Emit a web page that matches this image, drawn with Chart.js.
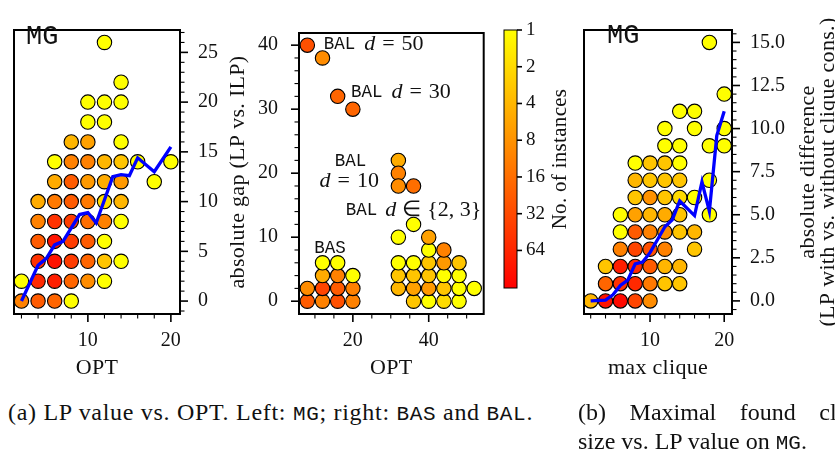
<!DOCTYPE html>
<html>
<head>
<meta charset="utf-8">
<title>LP value vs. OPT</title>
<script src="https://cdn.jsdelivr.net/npm/chart.js@4.4.1/dist/chart.umd.min.js"></script>
<style>
  body { margin: 0; background: #fff; }
  #fig { position: relative; width: 835px; height: 457px; overflow: hidden; background: #fff; }
  #fig canvas { position: absolute; top: 0; }
  .cap { position: absolute; font-family: "Liberation Serif", serif; font-size: 24px; line-height: 29px; color: #111; white-space: nowrap; }
  .tt { font-family: "Liberation Mono", monospace; font-size: 21px; }
</style>
</head>
<body>
<div id="fig">
  <canvas id="mgChart" width="262" height="390" style="left:0"></canvas>
  <canvas id="balChart" width="242" height="390" style="left:250px"></canvas>
  <canvas id="barChart" width="90" height="390" style="left:492px"></canvas>
  <canvas id="cliqueChart" width="265" height="390" style="left:570px"></canvas>
  <div class="cap" style="left:8px;top:398px;letter-spacing:0.7px">(a) LP value vs. OPT. Left: <span class="tt">MG</span>; right: <span class="tt">BAS</span> and <span class="tt">BAL</span>.</div>
  <div class="cap" style="left:578px;top:398px;width:300px;text-align:justify;text-align-last:justify">(b) Maximal found clique</div>
  <div class="cap" style="left:578px;top:427px">size vs. LP value on <span class="tt">MG</span>.</div>
</div>

<script>
// MG: OPT vs. absolute gap, with number of instances per point
const mgOpt   = [2,4,6,8, 2,4,6,8,10,12, 4,6,8,10,12,14, 4,6,8,10,12, 4,6,8,10,12,14, 4,6,8,10,12,14, 6,8,10,12,14,18, 6,8,10,12,14,16,20, 8,10,14, 10,12, 10,12,14, 14, 12];
const mgGap   = [0,0,0,0, 2,2,2,2,2,2, 4,4,4,4,4,4, 6,6,6,6,6, 8,8,8,8,8,8, 10,10,10,10,10,10, 12,12,12,12,12,12, 14,14,14,14,14,14,14, 16,16,16, 18,18, 20,20,20, 22, 26];
const mgCount = [11,23,19,1, 1,60,74,19,9,1, 50,90,41,19,3,1, 23,90,41,23,1, 11,50,41,16,11,1, 5,13,23,13,2,4, 5,23,7,5,7,1, 1,11,11,4,3,1,1, 4,6,1, 1,1, 1,1,1, 1, 1];
const mgMeanOpt = [2, 4, 5, 6, 7, 9, 10, 11, 13, 14, 15, 16, 18, 20];
const mgMeanGap = [0, 3.6, 4.3, 5.65, 6.0, 8.7, 8.9, 7.85, 12.5, 12.7, 12.6, 14.4, 13.0, 15.5];

// BAS and BAL: OPT vs. absolute gap
const balOpt   = [8,12,16,20, 8,12,16,20, 12,16,20, 12,16,
                  8,12, 16,20, 32,32,32,36,
                  36,40,44,48, 32,36,40,44,48,52, 32,36,40,44,48, 32,36,40,44,48, 40,44, 32,40, 36];
const balGap   = [0,0,0,0, 2,2,2,2, 4,4,4, 6,6,
                  40,38, 32,30, 22,20,18,18,
                  0,0,0,0, 2,2,2,2,2,2, 4,4,4,4,4, 6,6,6,6,6, 8,8, 10,10, 12];
const balCount = [23,11,28,11, 9,35,23,11, 5,11,1, 1,1,
                  28,9, 19,19, 5,11,9,16,
                  3,1,2,1, 4,6,7,3,1,1, 3,3,3,1,1, 1,1,3,7,3, 1,11, 1,6, 1];

// MG: max clique vs. absolute difference of LP values
const cqSize  = [2,4,6,8,10, 4,6,8,10,12,14, 4,6,8,10,12,14, 6,8,10,12,16, 6,8,10,12,14,16, 6,8,10,12,14,18, 8,10,12,14,16, 8,10,12,14,18, 8,10,12,14, 12,14,18,20, 12,16,20, 14,16, 20, 18];
const cqDiff  = [0,0,0,0,0, 1,1,1,1,1,1, 2,2,2,2,2,2, 3,3,3,3,3, 4,4,4,4,4,4, 5,5,5,5,5,5, 6,6,6,6,6, 7,7,7,7,7, 8,8,8,8, 9,9,9,9, 10,10,10, 11,11, 12, 15];
const cqCount = [4,90,108,35,9, 19,50,60,13,3,3, 3,74,60,23,4,4, 11,35,28,11,3, 1,23,11,9,3,4, 1,6,4,5,3,1, 3,8,3,2,1, 4,3,3,3,1, 1,3,3,1, 1,1,1,1, 1,1,1, 1,1, 1, 1];
const cqMeanSize = [2, 4, 5, 6, 7, 8, 9, 10, 11, 12, 13, 14, 16, 17, 18, 19, 20];
const cqMeanDiff = [0, 0.05, 0.35, 0.9, 1.2, 2.15, 2.25, 2.8, 3.55, 4.3, 4.7, 5.8, 4.95, 6.9, 5.2, 9.6, 11.0];

// colour bar ticks (No. of instances, log scale)
const barTicks = [1, 2, 4, 8, 16, 32, 64];
const VMAX = 130;

const SERIF = '"Liberation Serif", serif';
const MONO = '"Liberation Mono", monospace';
const INK = '#111';
const TITLE = '22px ' + SERIF;
const MATH = '22px ' + SERIF;
const ITAL = 'italic 22px ' + SERIF;
const TT = '17.5px ' + MONO;

function range(a, b, step) {
  const out = [];
  for (let i = 0; a + i * step <= b + 1e-9; i++) out.push(+(a + i * step).toFixed(3));
  return out;
}

// autumn_r colour map on a log scale, 1 .. VMAX
function countColor(n) {
  const g = Math.round(255 * (1 - Math.log(n) / Math.log(VMAX)));
  return 'rgb(255,' + g + ',0)';
}

const decor = {
  id: 'decor',
  afterDraw(chart, args, o) {
    const ctx = chart.ctx, a = chart.chartArea;
    ctx.save();
    ctx.strokeStyle = '#000';
    Object.keys(o.marks || {}).forEach(id => {
      const m = o.marks[id], s = chart.scales[id];
      s.ticks.forEach(t => {
        const q = t.value / m.major, big = Math.abs(q - Math.round(q)) < 1e-9;
        const len = big ? m.len : m.minor, p = s.getPixelForValue(t.value);
        ctx.lineWidth = big ? 1.6 : 1.1;
        ctx.beginPath();
        if (m.side === 'bottom') { ctx.moveTo(p, a.bottom); ctx.lineTo(p, a.bottom + len); }
        else if (m.side === 'left') { ctx.moveTo(a.left, p); ctx.lineTo(a.left - len, p); }
        else { ctx.moveTo(a.right, p); ctx.lineTo(a.right + len, p); }
        ctx.stroke();
      });
    });
    ctx.lineWidth = o.frame;
    ctx.strokeRect(a.left, a.top, a.right - a.left, a.bottom - a.top);

    ctx.fillStyle = INK;
    ctx.textBaseline = 'middle';
    ctx.textAlign = 'left';
    (o.texts || []).forEach(tx => {
      let x = tx.x === 'mid' ? (a.left + a.right) / 2 : tx.x;
      let y = tx.y === 'mid' ? (a.top + a.bottom) / 2 : tx.y;
      if (tx.data) { x = chart.scales.x.getPixelForValue(tx.x); y = chart.scales.y.getPixelForValue(tx.y); }
      ctx.save();
      ctx.letterSpacing = tx.ls || '0px';
      ctx.translate(x, y);
      if (tx.rot) ctx.rotate(-Math.PI / 2);
      const w = tx.parts.map(p => { if (p.g) return p.g; ctx.font = p.f; return ctx.measureText(p.t).width; });
      let cx = tx.align === 'center' ? -w.reduce((s, v) => s + v, 0) / 2 : 0;
      tx.parts.forEach((p, i) => { if (!p.g) { ctx.font = p.f; ctx.fillText(p.t, cx, 0); } cx += w[i]; });
      ctx.restore();
    });
    ctx.restore();
  }
};

function axis(pos, min, max, ticks, major, pad, fixed, fmt) {
  return {
    type: 'linear', position: pos, min: min, max: max,
    grid: { display: false, drawTicks: false },
    border: { display: false },
    ticks: {
      padding: pad, autoSkip: false, maxRotation: 0, color: INK,
      font: { family: SERIF, size: 20 },
      callback: v => { const q = v / major; return Math.abs(q - Math.round(q)) < 1e-9 ? fmt(v) : ''; }
    },
    afterBuildTicks: s => { s.ticks = ticks.map(v => ({ value: v })); },
    afterFit: s => { if (s.isHorizontal()) s.height = fixed; else s.width = fixed; }
  };
}

function scatterSet(xs, ys, ns) {
  return {
    type: 'scatter', order: 2, clip: 0,
    data: xs.map((x, i) => ({ x: x, y: ys[i] })),
    pointRadius: 7.2, pointHoverRadius: 7.2,
    pointBackgroundColor: ns.map(countColor),
    pointBorderColor: '#000', pointBorderWidth: 1.1
  };
}

function meanSet(xs, ys) {
  return {
    type: 'line', order: 1, clip: 0,
    data: xs.map((x, i) => ({ x: x, y: ys[i] })),
    borderColor: '#0000ff', borderWidth: 3.3, pointRadius: 0, tension: 0, fill: false
  };
}

function baseOptions(padding, scales, decorOpts) {
  return {
    responsive: false, animation: false, events: [],
    layout: { padding: padding },
    plugins: { legend: { display: false }, tooltip: { enabled: false }, decor: decorOpts },
    scales: scales
  };
}

const num = v => String(v);

new Chart(document.getElementById('mgChart'), {
  type: 'scatter',
  data: { datasets: [scatterSet(mgOpt, mgGap, mgCount), meanSet(mgMeanOpt, mgMeanGap)] },
  options: baseOptions({ left: 14, top: 9, right: 0, bottom: 0 }, {
    x: axis('bottom', 1.1, 21.1, range(2, 20, 2), 10, 15, 76, num),
    y: axis('right', -1.3, 27.25, range(-1, 27, 1), 5, 18, 82, num)
  }, {
    frame: 2,
    marks: { x: { side: 'bottom', major: 10, len: 8, minor: 4.5 }, y: { side: 'right', major: 5, len: 8, minor: 4.5 } },
    texts: [
      { parts: [{ t: 'MG', f: '27px ' + MONO }], x: 26, y: 37 },
      { parts: [{ t: 'OPT', f: TITLE }], x: 'mid', y: 368, align: 'center', ls: '0.3px' },
      { parts: [{ t: 'absolute gap (LP vs. ILP)', f: TITLE }], x: 238, y: 'mid', rot: true, align: 'center', ls: '0.3px' }
    ]
  }),
  plugins: [decor]
});

new Chart(document.getElementById('balChart'), {
  type: 'scatter',
  data: { datasets: [scatterSet(balOpt, balGap, balCount)] },
  options: baseOptions({ left: 0, top: 9, right: 8, bottom: 0 }, {
    x: axis('bottom', 5.8, 54.5, range(10, 50, 5), 20, 15, 76, num),
    y: axis('left', -2.0, 41.9, range(0, 40, 2), 10, 21, 49, num)
  }, {
    frame: 2,
    marks: { x: { side: 'bottom', major: 20, len: 8, minor: 4.5 }, y: { side: 'left', major: 10, len: 8, minor: 4.5 } },
    texts: [
      { parts: [{ t: 'OPT', f: TITLE }], x: 'mid', y: 368, align: 'center', ls: '0.3px' },
      { data: true, x: 12.3, y: 40.2, parts: [{ t: 'BAL', f: TT }, { g: 9 }, { t: 'd', f: ITAL }, { g: 7 }, { t: '=', f: MATH }, { g: 7 }, { t: '50', f: MATH }] },
      { data: true, x: 19.5, y: 32.7, parts: [{ t: 'BAL', f: TT }, { g: 9 }, { t: 'd', f: ITAL }, { g: 7 }, { t: '=', f: MATH }, { g: 7 }, { t: '30', f: MATH }] },
      { data: true, x: 15.2, y: 21.8, parts: [{ t: 'BAL', f: TT }] },
      { data: true, x: 11.2, y: 18.8, parts: [{ t: 'd', f: ITAL }, { g: 7 }, { t: '=', f: MATH }, { g: 7 }, { t: '10', f: MATH }] },
      { data: true, x: 18.1, y: 14.2, parts: [{ t: 'BAL', f: TT }, { g: 8 }, { t: 'd', f: ITAL }, { g: 6 }, { t: '\u2208', f: MATH }, { g: 6 }, { t: '{2, 3}', f: MATH }] },
      { data: true, x: 9.8, y: 8.3, parts: [{ t: 'BAS', f: TT }] }
    ]
  }),
  plugins: [decor]
});

new Chart(document.getElementById('barChart'), {
  type: 'bar',
  data: {
    labels: ['n'],
    datasets: [{
      data: [[1, VMAX]],
      barPercentage: 1, categoryPercentage: 1, borderWidth: 0,
      backgroundColor: c => {
        const a = c.chart.chartArea;
        if (!a) return 'orange';
        const g = c.chart.ctx.createLinearGradient(0, a.top, 0, a.bottom);
        g.addColorStop(0, 'rgb(255,255,0)');
        g.addColorStop(1, 'rgb(255,0,0)');
        return g;
      }
    }]
  },
  options: baseOptions({ left: 12, top: 30, right: 0, bottom: 102 }, {
    x: { type: 'category', display: false },
    y: {
      type: 'logarithmic', position: 'right', min: 1, max: VMAX, reverse: true,
      grid: { display: false, drawTicks: false },
      border: { display: false },
      ticks: { padding: 9, autoSkip: false, color: INK, font: { family: SERIF, size: 19 }, callback: v => String(v) },
      afterBuildTicks: s => { s.ticks = barTicks.map(v => ({ value: v })); },
      afterFit: s => { s.width = 65; }
    }
  }, {
    frame: 1,
    marks: { y: { side: 'right', major: 1, len: 5, minor: 5 } },
    texts: [
      { parts: [{ t: 'No. of instances', f: '21px ' + SERIF }], x: 68, y: 'mid', rot: true, align: 'center', ls: '0.3px' }
    ]
  }),
  plugins: [decor]
});

new Chart(document.getElementById('cliqueChart'), {
  type: 'scatter',
  data: { datasets: [scatterSet(cqSize, cqDiff, cqCount), meanSet(cqMeanSize, cqMeanDiff)] },
  options: baseOptions({ left: 14, top: 9, right: 0, bottom: 0 }, {
    x: axis('bottom', 1.1, 21.05, range(2, 20, 2), 10, 15, 76, num),
    y: axis('right', -0.76, 15.72, range(-0.5, 15.5, 0.5), 2.5, 18, 103, v => v.toFixed(1))
  }, {
    frame: 2,
    marks: { x: { side: 'bottom', major: 10, len: 8, minor: 4.5 }, y: { side: 'right', major: 2.5, len: 8, minor: 4.5 } },
    texts: [
      { parts: [{ t: 'MG', f: '27px ' + MONO }], x: 37, y: 36 },
      { parts: [{ t: 'max clique', f: TITLE }], x: 'mid', y: 368, align: 'center', ls: '0.3px' },
      { parts: [{ t: 'absolute difference', f: TITLE }], x: 238, y: 'mid', rot: true, align: 'center', ls: '0.3px' },
      { parts: [{ t: '(LP with vs. without clique cons.)', f: TITLE }], x: 258, y: 'mid', rot: true, align: 'center', ls: '0.3px' }
    ]
  }),
  plugins: [decor]
});
</script>
</body>
</html>
